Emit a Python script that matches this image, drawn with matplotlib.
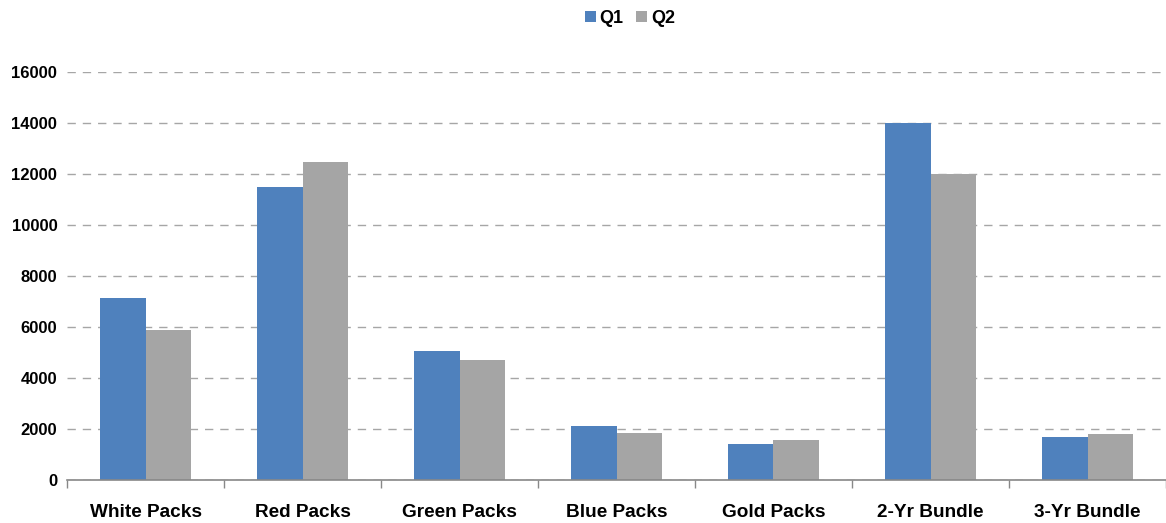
import matplotlib.pyplot as plt
import numpy as np

plt.rcParams["font.family"] = ["Liberation Sans", "DejaVu Sans"]
plt.rcParams["font.weight"] = "bold"

categories = ["White Packs", "Red Packs", "Green Packs", "Blue Packs",
              "Gold Packs", "2-Yr Bundle", "3-Yr Bundle"]
q1 = [7140, 11500, 5060, 2120, 1410, 14000, 1690]
q2 = [5880, 12470, 4700, 1840, 1570, 12000, 1800]
yticks = [0, 2000, 4000, 6000, 8000, 10000, 12000, 14000, 16000]

BLUE = "#4F81BD"
GRAY = "#A5A5A5"

fig = plt.figure(figsize=(11.66, 5.23), dpi=100)
ax = fig.add_axes([67 / 1166, 43 / 523, 1099 / 1166, 408 / 523])

x = np.arange(len(categories))
w = 0.29
ax.bar(x - w / 2, q1, width=w, color=BLUE, label="Q1", zorder=3)
ax.bar(x + w / 2, q2, width=w, color=GRAY, label="Q2", zorder=3)

ax.set_xlim(-0.5, len(categories) - 0.5)
ax.set_ylim(0, 16000)
ax.set_yticks(yticks)
ax.set_yticklabels([str(v) for v in yticks], fontsize=12, fontweight="bold")
ax.tick_params(axis="y", length=0, pad=7)

# category labels centred, tick marks on the boundaries
ax.set_xticks(x)
ax.set_xticklabels(categories, fontsize=13.7, fontweight="bold")
ax.tick_params(axis="x", which="major", length=0, pad=17)
ax.set_xticks(np.arange(-0.5, len(categories), 1.0), minor=True)
ax.tick_params(axis="x", which="minor", length=6, width=1, color="#888888", direction="out")

ax.yaxis.grid(True, linestyle=(0, (6, 5)), color="#A6A6A6", linewidth=1, zorder=0)
for side in ["top", "right", "left"]:
    ax.spines[side].set_visible(False)
ax.spines["bottom"].set_color("#888888")
ax.spines["bottom"].set_linewidth(1.2)
ax.spines["bottom"].set_zorder(4)

fig.legend(loc="upper center", bbox_to_anchor=(630 / 1166, 1.012), ncol=2, frameon=False,
           prop={"weight": "bold", "size": 13},
           handlelength=0.6, handleheight=0.6, handletextpad=0.2, columnspacing=0.7)

fig.savefig("out.png", dpi=100)
